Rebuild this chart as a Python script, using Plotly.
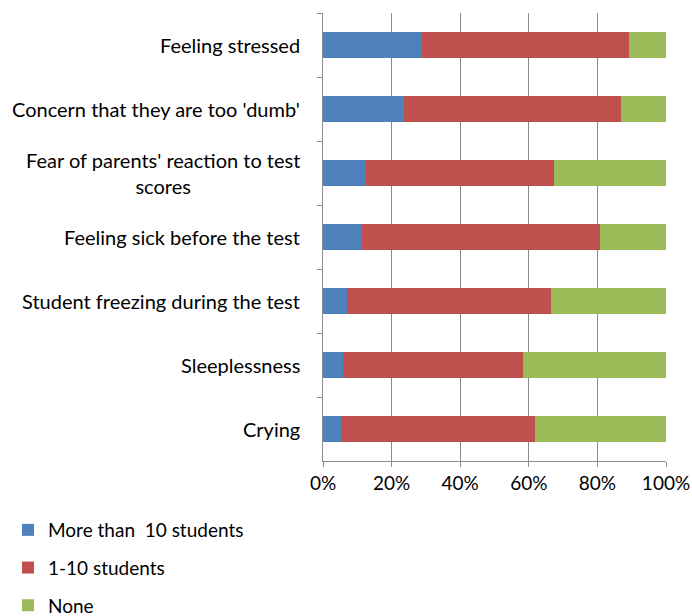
import plotly.graph_objects as go

categories = ["Feeling stressed", "Concern that they are too 'dumb'",
              "Fear of parents' reaction to test<br>scores", "Feeling sick before the test",
              "Student freezing during the test", "Sleeplessness", "Crying"]
more_than_10 = [28.9, 23.6, 12.4, 11.4, 7.0, 5.8, 5.2]
one_to_10 = [60.3, 63.3, 54.9, 69.4, 59.5, 52.5, 56.6]
none = [10.8, 13.1, 32.7, 19.2, 33.5, 41.7, 38.2]
tick_vals = [0, 20, 40, 60, 80, 100]
tick_text = ["0%", "20%", "40%", "60%", "80%", "100%"]

series = [("More than  10 students", more_than_10, "#4F81BD"),
          ("1-10 students", one_to_10, "#C0504D"),
          ("None", none, "#9BBB59")]

fig = go.Figure()
for i, (name, vals, col) in enumerate(series):
    fig.add_trace(go.Bar(y=categories, x=vals, name=name, orientation="h",
                         marker=dict(color=col, line=dict(width=0)),
                         legendgroup=str(i)))

for c in categories:
    fig.add_annotation(x=-0.06, xref="paper", y=c, yref="y", text=c,
                       xanchor="right", yanchor="middle", align="center",
                       showarrow=False, font=dict(size=20))

fig.update_layout(
    barmode="stack", bargap=0.6,
    width=692, height=616,
    margin=dict(l=323, r=26, t=13, b=155),
    plot_bgcolor="white", paper_bgcolor="white",
    font=dict(family="Lato, Carlito, sans-serif", size=19, color="black"),
    showlegend=True,
    legend=dict(orientation="v", xref="container", yref="container",
                x=8 / 692, xanchor="left", y=(616 - 511) / 616, yanchor="top",
                tracegroupgap=10, font=dict(size=19), traceorder="grouped"),
)
fig.update_xaxes(range=[0, 100], tickvals=tick_vals, ticktext=tick_text,
                 showgrid=True, gridcolor="#8C8C8C", gridwidth=1,
                 showline=True, linecolor="#8C8C8C", linewidth=1,
                 ticks="outside", ticklen=5, tickcolor="#8C8C8C",
                 tickfont=dict(size=19), zeroline=False, automargin=False)
fig.update_yaxes(autorange="reversed", categoryorder="array", categoryarray=categories,
                 showline=True, linecolor="#8C8C8C", linewidth=1,
                 ticks="outside", ticklen=5, tickcolor="#8C8C8C", tickson="boundaries",
                 showticklabels=False, automargin=False)
fig.write_html("out.html", config={"displayModeBar": False},
               post_script="document.body.style.margin='0';")
